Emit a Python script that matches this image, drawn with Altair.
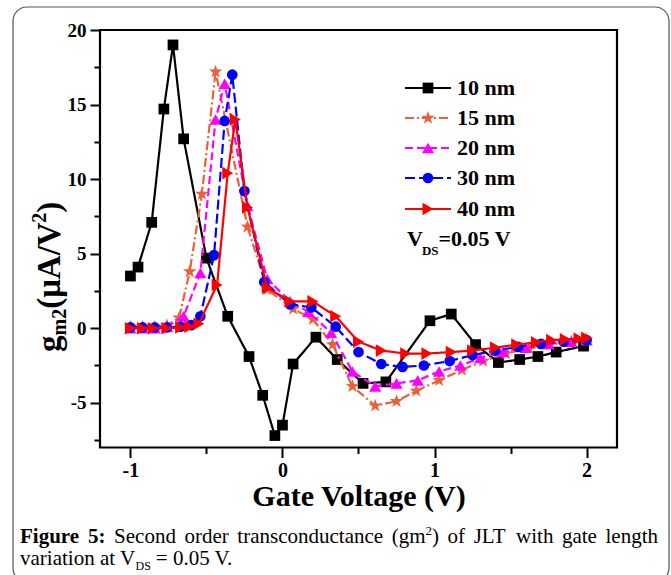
import altair as alt
import pandas as pd

# ---------------- data ----------------
series = ["10 nm", "15 nm", "20 nm", "30 nm", "40 nm"]

x10 = [-1.0, -0.95, -0.86, -0.78, -0.72, -0.65, -0.5, -0.36, -0.22, -0.13, -0.05, 0.0, 0.07,
       0.22, 0.36, 0.53, 0.68, 0.97, 1.11, 1.27, 1.42, 1.56, 1.68, 1.80, 1.98]
y10 = [3.5, 4.1, 7.1, 14.7, 19.0, 12.7, 4.7, 0.8, -1.9, -4.5, -7.2, -6.5, -2.4,
       -0.6, -2.1, -3.7, -3.6, 0.5, 0.95, -1.1, -2.3, -2.1, -1.9, -1.6, -1.2]

x15 = [-1.0, -0.92, -0.84, -0.76, -0.68, -0.61, -0.53, -0.44, -0.23, -0.1, 0.07, 0.2, 0.33,
       0.46, 0.61, 0.75, 0.88, 1.03, 1.18, 1.32, 1.47, 1.62, 1.76, 1.9, 2.0]
y15 = [0.1, 0.1, 0.1, 0.2, 0.7, 3.8, 9.0, 17.2, 6.8, 2.6, 1.3, 0.6, -1.1,
       -3.9, -5.2, -4.9, -4.2, -3.5, -2.8, -2.2, -1.7, -1.35, -1.1, -0.9, -0.75]

x20 = [-1.0, -0.92, -0.84, -0.76, -0.65, -0.54, -0.44, -0.38, -0.23, -0.1, 0.05, 0.17, 0.32,
       0.46, 0.61, 0.75, 0.89, 1.03, 1.17, 1.3, 1.45, 1.6, 1.75, 1.9, 2.0]
y20 = [0.0, 0.0, 0.0, 0.1, 0.8, 3.7, 14.0, 16.4, 8.2, 3.3, 1.8, 1.1, -0.3,
       -2.9, -3.9, -3.7, -3.5, -2.9, -2.5, -2.0, -1.6, -1.3, -1.05, -0.9, -0.8]

x30 = [-1.0, -0.92, -0.84, -0.76, -0.67, -0.6, -0.54, -0.45, -0.38, -0.33, -0.25, -0.12, 0.05,
       0.19, 0.35, 0.5, 0.65, 0.79, 0.93, 1.1, 1.25, 1.4, 1.55, 1.7, 1.85, 2.0]
y30 = [0.05, 0.05, 0.05, 0.05, 0.1, 0.2, 0.8, 4.9, 13.9, 17.0, 9.2, 3.1, 1.6,
       1.4, 0.1, -1.6, -2.4, -2.6, -2.5, -2.2, -1.8, -1.5, -1.25, -1.05, -0.9, -0.8]

x40 = [-1.0, -0.92, -0.85, -0.76, -0.67, -0.61, -0.55, -0.43, -0.36, -0.31, -0.23, -0.1, 0.05,
       0.2, 0.35, 0.5, 0.65, 0.81, 0.95, 1.11, 1.25, 1.4, 1.54, 1.67, 1.77, 1.86, 1.95, 2.0]
y40 = [0.0, 0.0, 0.0, 0.0, 0.05, 0.1, 0.3, 2.9, 10.4, 14.0, 8.1, 2.7, 1.8,
       1.8, 0.8, -0.9, -1.5, -1.7, -1.7, -1.6, -1.5, -1.3, -1.1, -0.95, -0.8, -0.75, -0.7, -0.65]

xs = [x10, x15, x20, x30, x40]
ys = [y10, y15, y20, y30, y40]

x_ticks = [-1, -0.5, 0, 0.5, 1, 1.5, 2]
y_ticks = [-7.5, -5, -2.5, 0, 2.5, 5, 7.5, 10, 12.5, 15, 17.5, 20]

# ---------------- styles ----------------
STAR = ("M0,-1L0.235,-0.324L0.951,-0.309L0.38,0.124L0.588,0.809L0,0.4"
        "L-0.588,0.809L-0.38,0.124L-0.951,-0.309L-0.235,-0.324Z")
colors = ["#000000", "#E8613A", "#FF00FF", "#0000FF", "#FF0000"]
dashes = [[1, 0], [9, 3, 2, 3], [8, 4], [10, 4], [1, 0]]
shapes = ["square", STAR, "triangle-up", "circle", "triangle-right"]
sizes = [115, 200, 150, 115, 160]

SERIF = "Liberation Serif"
OX, OY = 100, 30          # plot-area origin inside the 671x575 page
W, H = 517, 417.5

# Times / Liberation Serif advance widths (per 1000 em)
TR = {' ': 250, '(': 333, ')': 333, '.': 250, ':': 278, '=': 564, '/': 278,
      'A': 722, 'D': 722, 'F': 556, 'J': 389, 'L': 611, 'S': 556, 'T': 611, 'V': 722,
      'a': 444, 'c': 444, 'd': 500, 'e': 444, 'f': 333, 'g': 500, 'h': 500, 'i': 278,
      'l': 278, 'm': 778, 'n': 500, 'o': 500, 'r': 333, 's': 389, 't': 278, 'u': 500,
      'v': 500, 'w': 722}
TB = {' ': 250, '(': 333, ')': 333, '.': 250, ':': 333, '=': 570, '/': 278,
      'A': 722, 'D': 722, 'F': 611, 'G': 778, 'S': 556, 'V': 722, 'μ': 556,
      'a': 500, 'e': 444, 'g': 500, 'i': 278, 'm': 833, 'n': 556, 'o': 500,
      'r': 444, 't': 333, 'u': 556}


def tw(s, size, bold=False):
    t = TB if bold else TR
    return sum(t.get(ch, 500) for ch in s) * size / 1000.0


one = pd.DataFrame({"k": [0]})


def text(s, x, y, size, bold=False, align="left", baseline="alphabetic", angle=0, color="#000000"):
    kw = dict(text=s, align=align, baseline=baseline, font=SERIF, fontSize=size,
              fontWeight="bold" if bold else "normal", color=color)
    if angle:
        kw["angle"] = angle
    return alt.Chart(one).mark_text(**kw).encode(x=alt.value(x - OX), y=alt.value(y - OY))


# ---------------- scales / axes ----------------
xscale = alt.Scale(domain=[-1.2, 2.2], nice=False, zero=False)
yscale = alt.Scale(domain=[-8, 20], nice=False, zero=False)

xaxis = alt.Axis(values=x_ticks, title="Gate Voltage (V)",
                 labelExpr="datum.value % 1 == 0 ? '' + datum.value : ''",
                 tickSize={"condition": {"test": "datum.value % 1 != 0", "value": 6}, "value": 10},
                 labelFont=SERIF, labelFontWeight="bold", labelFontSize=20, labelPadding=3,
                 labelColor="#000000", tickColor="#000000", tickWidth=2, domain=False, grid=False,
                 labelOverlap=False, labelFlush=False,
                 titleFont=SERIF, titleFontWeight="bold", titleFontSize=30, titleColor="#000000",
                 titleBaseline="alphabetic", titleY=58)
yaxis = alt.Axis(values=y_ticks, title=None,
                 labelExpr="datum.value % 5 == 0 ? '' + datum.value : ''",
                 tickSize={"condition": {"test": "datum.value % 5 != 0", "value": 6}, "value": 10},
                 labelFont=SERIF, labelFontWeight="bold", labelFontSize=19, labelPadding=4,
                 labelColor="#000000", tickColor="#000000", tickWidth=2, domain=False, grid=False,
                 labelOverlap=False, labelFlush=False)

layers = []

# figure border (rounded box around the whole figure)
layers.append(alt.Chart(one).mark_rect(fillOpacity=0, stroke="#555555", strokeWidth=1.2,
                                        cornerRadius=14).encode(
    x=alt.value(13 - OX), x2=alt.value(669 - OX), y=alt.value(7 - OY), y2=alt.value(582 - OY)))

for i, name in enumerate(series):
    df = pd.DataFrame({"v": xs[i], "g": ys[i], "s": name})
    base = alt.Chart(df).encode(x=alt.X("v:Q", scale=xscale, axis=xaxis),
                                y=alt.Y("g:Q", scale=yscale, axis=yaxis))
    layers.append(base.mark_line(color=colors[i], strokeDash=dashes[i], strokeWidth=2.2))
    layers.append(base.mark_point(shape=shapes[i], filled=True, size=sizes[i],
                                  color=colors[i], opacity=1))

# ---------------- legend ----------------
rows = [88, 118, 148, 178, 209]
for i, name in enumerate(series):
    yy = rows[i] - OY
    layers.append(alt.Chart(one).mark_rule(color=colors[i], strokeDash=dashes[i], strokeWidth=2.2)
                  .encode(x=alt.value(405 - OX), x2=alt.value(451 - OX), y=alt.value(yy)))
    layers.append(alt.Chart(one).mark_point(shape=shapes[i], filled=True, size=sizes[i],
                                            color=colors[i], opacity=1)
                  .encode(x=alt.value(428 - OX), y=alt.value(yy)))
    layers.append(text(name, 457, rows[i] + 7, 22, bold=True))

# V_DS = 0.05 V annotation
vx = 407
layers.append(text("V", vx, 246, 22, bold=True))
layers.append(text("DS", vx + tw("V", 22, True) - 1, 255, 13, bold=True))
layers.append(text("=0.05 V", vx + tw("V", 22, True) + tw("DS", 13, True) - 1, 246, 22, bold=True))

# ---------------- y axis title: g_m2(μA/V^2) rotated ----------------
F = 33
FS = 20
bx = 60
yy0 = 352
pieces = [("g", F, 0), ("m2", FS, 6), ("(μA/V", F, 0), ("2", FS, -14), (")", F, 0)]
pos = yy0
for s, size, shift in pieces:
    layers.append(text(s, bx + shift, pos, size, bold=True, angle=270))
    pos -= tw(s, size, True)

# ---------------- caption ----------------
CS = 21
SUP = 13
line1 = [[("Figure", True, CS, 0)], [("5:", True, CS, 0)], [("Second", False, CS, 0)],
         [("order", False, CS, 0)], [("transconductance", False, CS, 0)],
         [("(gm", False, CS, 0), ("2", False, SUP, -8), (")", False, CS, 0)],
         [("of", False, CS, 0)], [("JLT", False, CS, 0)], [("with", False, CS, 0)],
         [("gate", False, CS, 0)], [("length", False, CS, 0)]]
left, right = 20, 658
word_w = [sum(tw(s, sz, b) for s, b, sz, _ in w) for w in line1]
gap = (right - left - sum(word_w)) / (len(line1) - 1)
cx = left
for w, ww in zip(line1, word_w):
    px = cx
    for s, b, sz, dy in w:
        layers.append(text(s, px, 543 + dy, sz, bold=b))
        px += tw(s, sz, b)
    cx += ww + gap

cx = left
for s, sz, dy, extra in [("variation at V", CS, 0, 0), ("DS", 12, 5, 5), ("= 0.05 V.", CS, 0, 0)]:
    layers.append(text(s, cx, 565 + dy, sz))
    cx += tw(s, sz) + extra

chart = alt.layer(*layers).properties(
    width=W, height=H,
    autosize=alt.AutoSizeParams(type="none"),
    padding={"left": OX, "top": OY, "right": 671 - OX - W, "bottom": 575 - OY - H},
    background="#ffffff",
).configure_view(stroke="#000000", strokeWidth=2.2)

chart.save("out.html", embed_options={"renderer": "svg", "actions": False})
